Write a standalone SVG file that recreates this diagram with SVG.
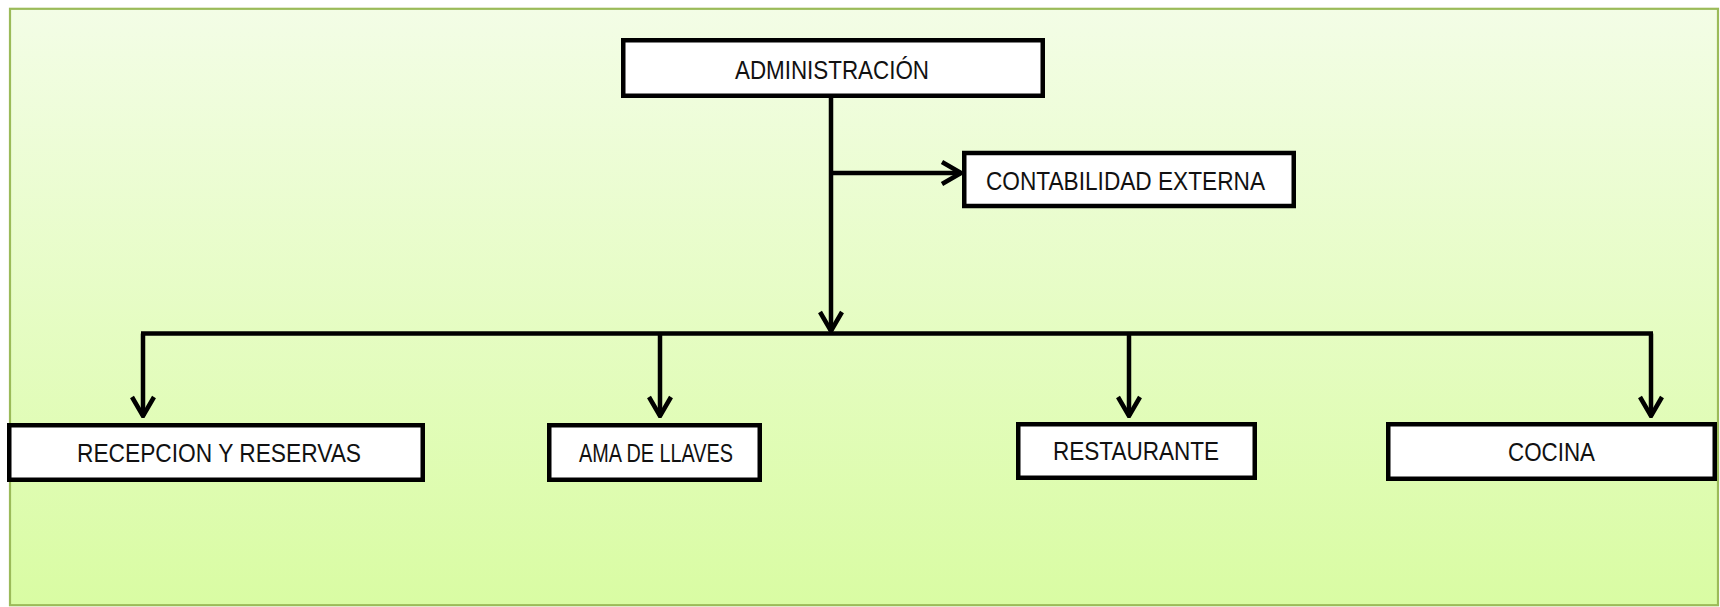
<svg xmlns="http://www.w3.org/2000/svg" width="1720" height="607" viewBox="0 0 1720 607">
<defs>
<linearGradient id="bg" x1="0" y1="0" x2="0" y2="1">
<stop offset="0" stop-color="#f3fde6"/>
<stop offset="1" stop-color="#d9fca3"/>
</linearGradient>
<marker id="arr" viewBox="-24 -14 26 28" refX="0" refY="0" markerWidth="26" markerHeight="28" markerUnits="userSpaceOnUse" orient="auto">
<path d="M-19,-11 L0,0 L-19,11" fill="none" stroke="#000" stroke-width="4.5"/>
</marker>
</defs>
<style>
.box{fill:#fff;stroke:#000;stroke-width:4.5}
.lbl{font-family:"Liberation Sans",Arial,sans-serif;font-size:26px;fill:#111;text-anchor:middle}
.ln{fill:none;stroke:#000;stroke-width:4.5}
</style>
<rect x="10" y="8.8" width="1708" height="596.4" fill="url(#bg)" stroke="#9bbb59" stroke-width="2.2"/>
<g id="connectors">
<path class="ln" d="M831,98 V331" marker-end="url(#arr)"/>
<path class="ln" d="M831,173 H961" marker-end="url(#arr)"/>
<path class="ln" d="M141,333.5 H1653"/>
<path class="ln" d="M143,333.5 V416" marker-end="url(#arr)"/>
<path class="ln" d="M660,333.5 V416" marker-end="url(#arr)"/>
<path class="ln" d="M1129,333.5 V416" marker-end="url(#arr)"/>
<path class="ln" d="M1651,333.5 V416" marker-end="url(#arr)"/>
</g>
<g id="administracion">
<rect class="box" x="623.25" y="40.25" width="419.5" height="55.5"/>
<text class="lbl" x="832" y="79" textLength="194" lengthAdjust="spacingAndGlyphs">ADMINISTRACIÓN</text>
</g>
<g id="contabilidad">
<rect class="box" x="964.25" y="153" width="329.5" height="53"/>
<text class="lbl" x="1125.5" y="190" textLength="279" lengthAdjust="spacingAndGlyphs">CONTABILIDAD EXTERNA</text>
</g>
<g id="recepcion">
<rect class="box" x="9.25" y="425.25" width="413.5" height="54.5"/>
<text class="lbl" x="219" y="461.5" textLength="284" lengthAdjust="spacingAndGlyphs">RECEPCION Y RESERVAS</text>
</g>
<g id="ama">
<rect class="box" x="549.25" y="425.25" width="210.5" height="54.5"/>
<text class="lbl" x="656" y="461.5" textLength="154" lengthAdjust="spacingAndGlyphs">AMA DE LLAVES</text>
</g>
<g id="restaurante">
<rect class="box" x="1018.25" y="424.25" width="236.5" height="53.5"/>
<text class="lbl" x="1136" y="460" textLength="166" lengthAdjust="spacingAndGlyphs">RESTAURANTE</text>
</g>
<g id="cocina">
<rect class="box" x="1388.25" y="424.25" width="326.5" height="54.5"/>
<text class="lbl" x="1551.5" y="460.5" textLength="87" lengthAdjust="spacingAndGlyphs">COCINA</text>
</g>
</svg>
